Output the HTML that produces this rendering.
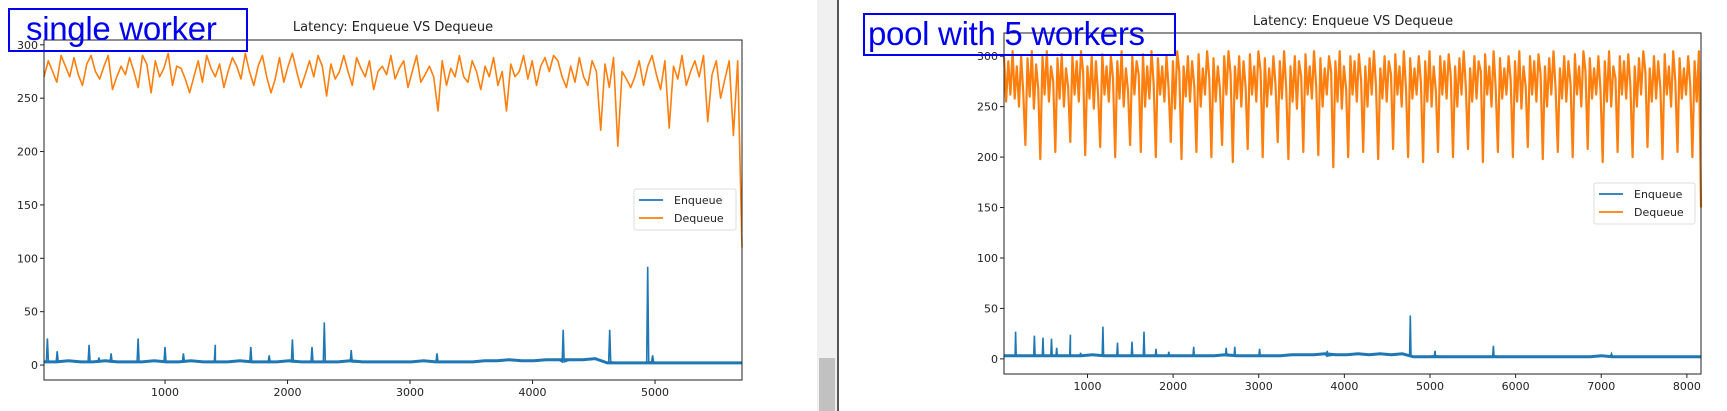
<!DOCTYPE html>
<html><head><meta charset="utf-8">
<style>
body{margin:0;width:1727px;height:411px;background:#fff;overflow:hidden;position:relative;font-family:"DejaVu Sans","Liberation Sans",sans-serif}
.box{position:absolute;border:2px solid #0000ee;color:#0000ee;font-family:"Liberation Sans",sans-serif;font-size:33px;line-height:38px;white-space:nowrap;box-sizing:border-box;letter-spacing:-0.3px}
</style></head><body>
<div style="position:absolute;left:817px;top:0;width:20px;height:411px;background:#f0f0f0"></div>
<div style="position:absolute;left:819px;top:358px;width:16px;height:53px;background:#c1c1c1"></div>
<div style="position:absolute;left:837px;top:0;width:2px;height:411px;background:#555"></div>
<svg id="svg" width="1727" height="411" style="position:absolute;left:0;top:0"></svg>
<div class="box" style="left:8px;top:8px;width:240px;height:44px;padding-left:16px">single worker</div>
<div class="box" style="left:863px;top:13px;width:313px;height:43px;padding-left:3px">pool with 5 workers</div>
<script>
// left chart data
const leftDeq=[270,285,275,265,290,280,270,288,272,262,282,290,275,268,280,290,258,270,280,272,288,275,260,290,282,255,285,270,278,292,262,280,278,268,255,270,285,265,290,278,270,282,260,275,288,280,268,292,275,262,280,290,270,255,268,288,265,280,292,275,260,272,285,270,290,280,252,282,268,275,290,275,262,288,278,270,285,258,275,280,272,290,268,278,285,260,275,290,265,272,280,270,238,285,262,278,270,290,270,265,285,275,258,280,270,288,262,275,238,282,270,275,290,268,285,262,280,288,275,290,285,270,260,280,265,288,270,262,285,275,220,282,260,288,205,275,268,260,270,285,262,280,290,272,258,285,222,280,268,290,262,275,285,270,290,228,272,285,250,268,285,215,285,110];
const leftBase=[3,3,4,3,3,4,3,3,3,4,3,3,4,3,3,3,4,3,3,3,4,3,3,3,3,4,3,3,3,3,3,4,3,3,3,3,4,4,5,4,4,5,5,5,5,6,2,2,2,2,2,2,2,2,2,2,2,2];
const leftSpikeX=[40,120,380,460,560,780,1000,1150,1410,1700,1850,2040,2200,2300,2520,3220,4250,4630,4940,4980];
const leftSpikeY=[25,13,19,7,11,25,17,11,19,17,9,24,17,40,14,11,33,33,92,9];
const leftXTicks=[1000,2000,3000,4000,5000];
const leftYTicks=[0,50,100,150,200,250,300];
// right chart data
const rightDeq=[300,255,295,262,305,258,290,250,300,265,212,298,260,305,248,292,268,198,300,262,305,255,290,275,205,298,258,302,250,288,270,215,300,262,295,255,305,285,202,290,258,300,248,295,262,210,302,262,290,255,300,278,200,295,258,305,250,288,266,212,300,262,295,282,205,302,250,290,258,305,272,200,298,262,290,255,300,268,215,295,248,305,285,198,290,260,300,255,295,270,205,302,250,288,262,305,278,200,298,255,290,268,212,300,262,305,282,195,290,258,300,250,295,270,208,302,262,290,255,305,285,200,298,250,288,262,300,272,215,295,258,305,268,198,290,255,300,248,295,280,205,302,262,290,258,305,270,202,298,250,288,262,300,285,190,295,255,305,248,290,268,200,300,262,295,255,302,276,205,290,250,298,262,305,270,198,288,258,300,255,295,282,208,302,262,290,250,305,268,200,298,258,288,262,300,274,195,295,255,305,250,290,265,205,300,262,295,258,302,280,200,290,250,298,262,305,270,208,288,255,300,258,295,285,195,302,262,290,250,305,268,205,298,258,288,262,300,276,200,295,255,305,248,290,270,210,300,262,295,255,302,282,198,290,250,298,262,305,268,205,288,258,300,255,295,272,200,302,262,290,250,305,285,208,298,258,288,262,300,266,195,295,255,305,250,290,278,205,300,262,295,258,302,270,200,290,250,298,262,305,284,210,288,255,300,258,295,268,198,302,262,290,250,305,276,205,298,258,288,262,300,270,200,295,255,305,150];
const rightBase=[3,3,3,3,3,3,3,3,4,3,3,3,3,3,3,3,3,3,3,3,4,3,3,3,3,3,4,4,4,5,4,4,5,4,5,4,5,2,2,2,2,2,2,2,2,2,2,2,2,2,2,2,2,2,3,2,2,2,2,2,2,2,2,2];
const rightSpikeX=[160,380,480,580,640,800,920,1180,1350,1520,1660,1800,1950,2240,2620,2720,3010,3800,4770,5060,5740,7120];
const rightSpikeY=[27,23,21,20,11,24,6,32,16,17,27,10,7,12,11,12,10,8,43,8,13,5];
const rightXTicks=[1000,2000,3000,4000,5000,6000,7000,8000];
const rightYTicks=[0,50,100,150,200,250,300];

const NS='http://www.w3.org/2000/svg';
const svg=document.getElementById('svg');
function mk(tag,attrs,parent){const e=document.createElementNS(NS,tag);for(const k in attrs)e.setAttribute(k,attrs[k]);(parent||svg).appendChild(e);return e;}

function drawChart(c,deq,base,sx,sy,xt,yt,prefix){
  const g=mk('g',{});
  
  
  const X=v=>c.l+(v-c.x0)/(c.x1-c.x0)*(c.r-c.l);
  const Y=v=>c.b-(v-c.y0)/(c.y1-c.y0)*(c.b-c.t);
  let d='';
  deq.forEach((v,i)=>{const xv=c.x0+(c.x1-c.x0)*i/(deq.length-1);d+=(i?'L':'M')+X(xv).toFixed(1)+' '+Y(v).toFixed(1);});
  const pd=mk('path',{d:d,fill:'none',stroke:'#ff7f0e','stroke-width':c.sw,'stroke-linejoin':'round'},g);
  
  
  const pts=[];
  base.forEach((v,i)=>pts.push([c.x0+(c.x1-c.x0)*i/(base.length-1),v]));
  sx.forEach((x,i)=>{pts.push([x-8,3]);pts.push([x,sy[i]]);pts.push([x+8,3]);});
  pts.sort((a,b)=>a[0]-b[0]);
  let e='';pts.forEach((p,i)=>{e+=(i?'L':'M')+X(p[0]).toFixed(1)+' '+Y(p[1]).toFixed(1);});
  const pb=mk('path',{d:e,fill:'none',stroke:'#1f77b4','stroke-width':1.6},g);
  
  
  let e2='';base.forEach((v,i)=>{const xv=c.x0+(c.x1-c.x0)*i/(base.length-1);e2+=(i?'L':'M')+X(xv).toFixed(1)+' '+Y(v).toFixed(1);});
  const pb2=mk('path',{d:e2,fill:'none',stroke:'#1f77b4','stroke-width':3},g);
  
  
  const fr=mk('rect',{x:c.l,y:c.t,width:c.r-c.l,height:c.b-c.t,fill:'none',stroke:'#222','stroke-width':1},g);
  
  
  xt.forEach(v=>{
    mk('line',{x1:X(v),x2:X(v),y1:c.b,y2:c.b+4,stroke:'#222'},g);
    const t=mk('text',{x:X(v),y:c.b+16,'text-anchor':'middle','font-size':11,fill:'#222'},g);
    t.textContent=v;
    
    
  });
  yt.forEach(v=>{
    mk('line',{x1:c.l-4,x2:c.l,y1:Y(v),y2:Y(v),stroke:'#222'},g);
    const t=mk('text',{x:c.l-6,y:Y(v)+4,'text-anchor':'end','font-size':11,fill:'#222'},g);
    t.textContent=v;
    
    
  });
  const ti=mk('text',{x:c.tx,y:c.ty,'text-anchor':'middle','font-size':13,fill:'#222'},g);
  ti.textContent='Latency: Enqueue VS Dequeue';
  
  
  const lg=mk('g',{},g);
  
  
  mk('rect',{x:c.lx,y:c.ly,width:c.lw,height:41,rx:2,fill:'#fff',stroke:'#ddd'},lg);
  [['Enqueue','#1f77b4'],['Dequeue','#ff7f0e']].forEach((s,i)=>{
    const yy=c.ly+11+i*18;
    mk('line',{x1:c.lx+5,x2:c.lx+29,y1:yy,y2:yy,stroke:s[1],'stroke-width':1.8},lg);
    const t=mk('text',{x:c.lx+40,y:yy+4,'font-size':11,fill:'#222'},lg);
    t.textContent=s[0];
    
    
  });
}
drawChart({l:44,r:742,t:40,b:380,x0:12,x1:5710,y0:-14,y1:304.5,tx:393,ty:31,lx:634,ly:189,lw:102,sw:1.6},leftDeq,leftBase,leftSpikeX,leftSpikeY,leftXTicks,leftYTicks,'left');
drawChart({l:1004,r:1701,t:33,b:374,x0:25,x1:8165,y0:-15,y1:323,tx:1353,ty:25,lx:1594,ly:183,lw:101,sw:2.2},rightDeq,rightBase,rightSpikeX,rightSpikeY,rightXTicks,rightYTicks,'right');
</script>
</body></html>
